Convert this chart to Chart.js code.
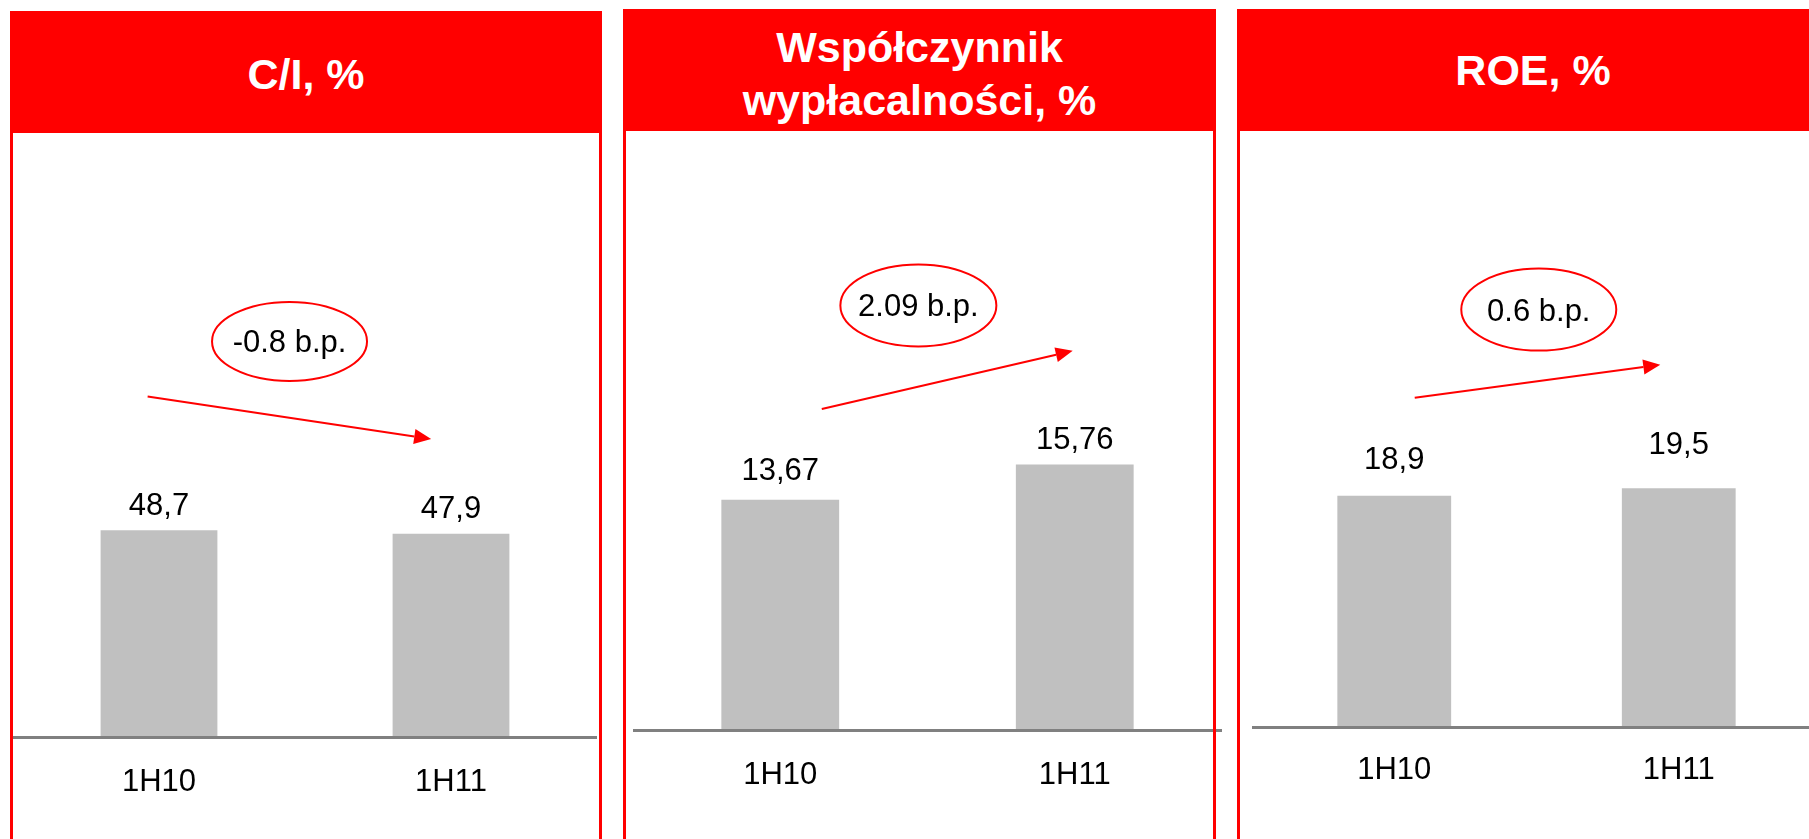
<!DOCTYPE html>
<html lang="pl">
<head>
<meta charset="utf-8">
<title>C/I, współczynnik wypłacalności, ROE</title>
<script src="https://cdn.jsdelivr.net/npm/chart.js@4.4.1/dist/chart.umd.min.js"></script>
<style>
    html, body { margin: 0; padding: 0; background: #fff; }
    body { position: relative; width: 1809px; height: 839px; overflow: hidden; font-family: 'Liberation Sans', Arial, sans-serif; }
    .panel { position: absolute; box-sizing: border-box; border: 3px solid #ff0000; height: 900px; width: 592px; z-index: 2; pointer-events: none; }
    .panel-head { box-sizing: border-box; height: 122px; margin: -3px -3px 0; background: #ff0000; color: #fff; font-weight: bold; font-size: 43px; line-height: 53px; text-align: center; display: flex; align-items: center; justify-content: center; }
    canvas { position: absolute; top: 133px; z-index: 1; }
</style>
</head>
<body>
<canvas id="chart-ci" width="584" height="706" style="left:13px"></canvas>
<canvas id="chart-solvency" width="589" height="706" style="left:633px"></canvas>
<canvas id="chart-roe" width="569" height="706" style="left:1252px"></canvas>

<div class="panel" style="left:10px; top:11px;"><div class="panel-head" style="padding-top:5px">C/I, %</div></div>
<div class="panel" style="left:623px; top:9px; width:593px;"><div class="panel-head" style="padding-top:7px"><div>Współczynnik<br>wypłacalności, %</div></div></div>
<div class="panel" style="left:1237px; top:9px;"><div class="panel-head">ROE, %</div></div>

<script>
    const categories = ['1H10', '1H11'];
    const ciValues = [48.7, 47.9];
    const solvencyValues = [13.67, 15.76];
    const roeValues = [18.9, 19.5];
    const changeLabels = ['-0.8 b.p.', '2.09 b.p.', '0.6 b.p.'];

    const FONT = "'Liberation Sans', Arial, sans-serif";
    const CANVAS_TOP = 133;
    const CANVAS_HEIGHT = 706;
    const LABEL_LINE = 31 * 1.2;

    // layout per panel: baseline is the page y of the axis line
    const panels = [
        {
            canvas: 'chart-ci', values: ciValues, change: changeLabels[0],
            baseline: 737, yMax: 142.3, tickPad: 27, lift: [15, 16],
            oval: { at: [0.447, 93.2], rx: 77.5, ry: 39.5 },
            arrow: { from: [-0.039, 80.2], to: [0.932, 70.2] },
        },
        {
            canvas: 'chart-solvency', values: solvencyValues, change: changeLabels[1],
            baseline: 730, yMax: 35.43, tickPad: 27, lift: [20, 15],
            oval: { at: [0.469, 25.2], rx: 78, ry: 41 },
            arrow: { from: [0.141, 19.05], to: [0.993, 22.5] },
        },
        {
            canvas: 'chart-roe', values: roeValues, change: changeLabels[2],
            baseline: 727, yMax: 48.53, tickPad: 25, lift: [27, 34],
            oval: { at: [0.508, 34.1], rx: 77.5, ry: 41 },
            arrow: { from: [0.072, 26.9], to: [0.935, 29.6] },
        },
    ];

    const formatValue = (v) => String(v).replace('.', ',');

    const valueLabels = {
        id: 'valueLabels',
        afterDatasetsDraw(chart, args, opts) {
            const { ctx } = chart;
            const data = chart.data.datasets[0].data;
            ctx.save();
            ctx.font = '31px ' + FONT;
            ctx.fillStyle = '#000';
            ctx.textAlign = 'center';
            ctx.textBaseline = 'alphabetic';
            chart.getDatasetMeta(0).data.forEach((bar, i) => {
                ctx.fillText(formatValue(data[i]), bar.x, bar.y - opts.lift[i]);
            });
            ctx.restore();
        },
    };

    const changeNote = {
        id: 'changeNote',
        afterDraw(chart, args, opts) {
            const { ctx } = chart;
            const { x, y } = chart.scales;
            const toPx = (p) => [x.getPixelForValue(p[0]), y.getPixelForValue(p[1])];

            ctx.save();
            ctx.strokeStyle = '#ff0000';
            ctx.lineWidth = 2;

            const [cx, cy] = toPx(opts.oval.at);
            ctx.beginPath();
            ctx.ellipse(cx, cy, opts.oval.rx, opts.oval.ry, 0, 0, Math.PI * 2);
            ctx.stroke();

            ctx.fillStyle = '#000';
            ctx.font = '31px ' + FONT;
            ctx.textAlign = 'center';
            ctx.textBaseline = 'alphabetic';
            ctx.fillText(opts.text, cx, cy + 11);

            const [x1, y1] = toPx(opts.arrow.from);
            const [x2, y2] = toPx(opts.arrow.to);
            const ang = Math.atan2(y2 - y1, x2 - x1);
            const head = 17;
            const half = 7.5;
            const bx = x2 - head * Math.cos(ang);
            const by = y2 - head * Math.sin(ang);

            ctx.beginPath();
            ctx.moveTo(x1, y1);
            ctx.lineTo(bx, by);
            ctx.stroke();

            ctx.fillStyle = '#ff0000';
            ctx.beginPath();
            ctx.moveTo(x2, y2);
            ctx.lineTo(bx + half * Math.sin(ang), by - half * Math.cos(ang));
            ctx.lineTo(bx - half * Math.sin(ang), by + half * Math.cos(ang));
            ctx.closePath();
            ctx.fill();
            ctx.restore();
        },
    };

    Chart.defaults.font.family = FONT;

    panels.forEach((p) => {
        const plotBottom = p.baseline - CANVAS_TOP;
        // the x axis box holds the tick padding twice plus one label line
        const padBottom = CANVAS_HEIGHT - plotBottom - 2 * p.tickPad - LABEL_LINE;

        new Chart(document.getElementById(p.canvas), {
            type: 'bar',
            data: {
                labels: categories,
                datasets: [{
                    data: p.values,
                    backgroundColor: '#c0c0c0',
                    categoryPercentage: 0.4,
                    barPercentage: 1,
                }],
            },
            options: {
                responsive: false,
                animation: false,
                layout: { padding: { top: 0, left: 0, right: 0, bottom: padBottom } },
                plugins: {
                    legend: { display: false },
                    tooltip: { enabled: false },
                    valueLabels: { lift: p.lift },
                    changeNote: { text: p.change, oval: p.oval, arrow: p.arrow },
                },
                scales: {
                    x: {
                        grid: { display: false, drawTicks: false },
                        border: { display: true, color: '#808080', width: 3, z: 1 },
                        ticks: { color: '#000', padding: p.tickPad, font: { size: 31 } },
                    },
                    y: {
                        display: false,
                        min: 0,
                        max: p.yMax,
                    },
                },
            },
            plugins: [valueLabels, changeNote],
        });
    });
</script>
</body>
</html>
